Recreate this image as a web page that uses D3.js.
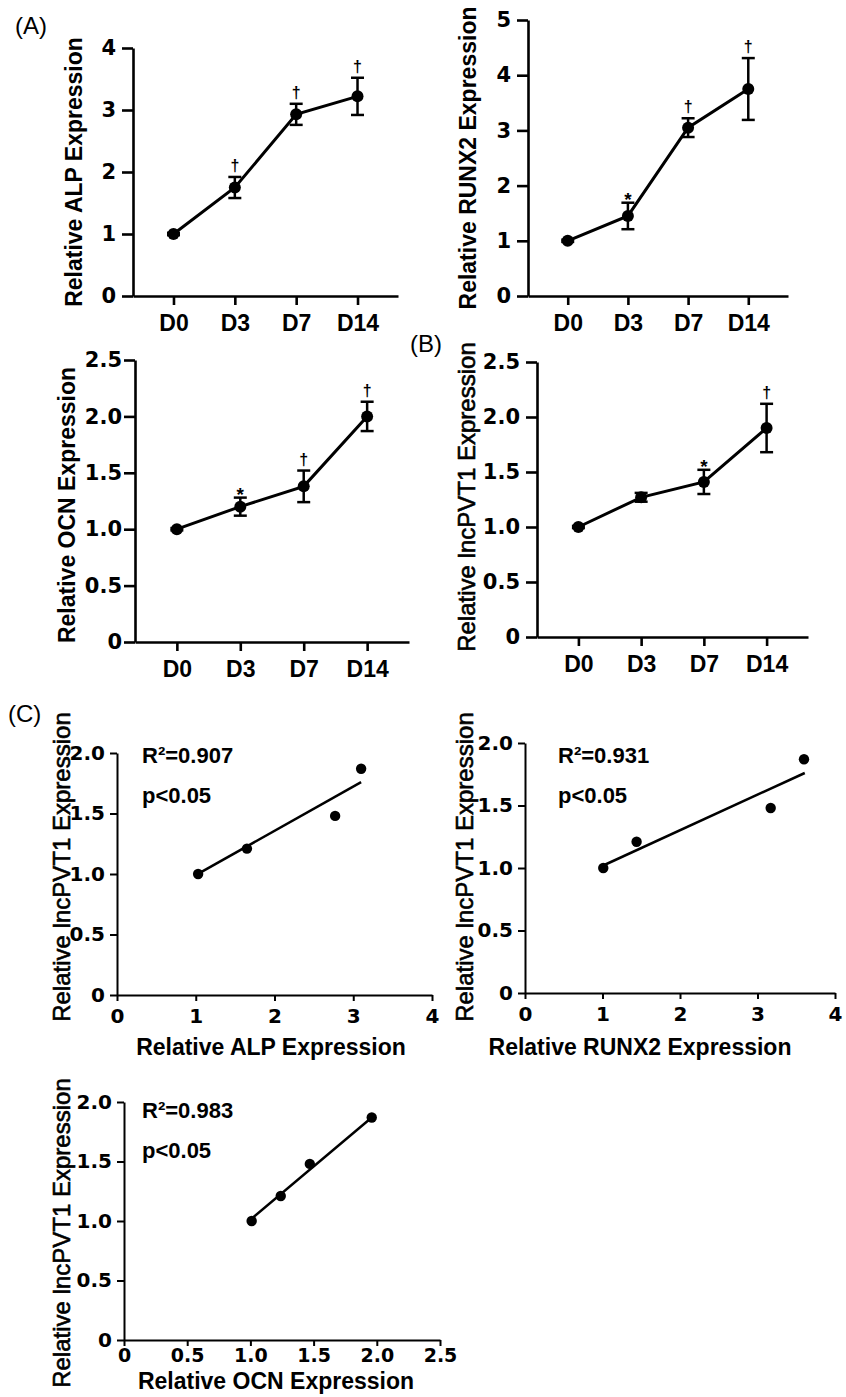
<!DOCTYPE html>
<html>
<head>
<meta charset="utf-8">
<script src="https://cdn.jsdelivr.net/npm/d3@7"></script>
<style>
  body { margin: 0; background: #fff; }
  svg { display: block; }
  .lab { font-family: "Liberation Sans", Arial, sans-serif; fill: #000; }
  .num text { font-family: "DejaVu Sans", sans-serif; font-weight: bold; fill: #000; }
  .cat text { font-family: "Liberation Sans", Arial, sans-serif; font-weight: bold; font-size: 23px; fill: #000; }
</style>
</head>
<body>
<svg id="fig" width="846" height="1397"></svg>
<script>
// time course (mean, error, significance mark)
const days = ["D0", "D3", "D7", "D14"];

const alpMean = [1.0, 1.75, 2.93, 3.22];
const alpErr = [0.02, 0.17, 0.17, 0.3];
const alpSig = ["", "†", "†", "†"];

const runx2Mean = [1.0, 1.45, 3.05, 3.75];
const runx2Err = [0.02, 0.24, 0.17, 0.56];
const runx2Sig = ["", "*", "†", "†"];

const ocnMean = [1.0, 1.2, 1.38, 2.0];
const ocnErr = [0.01, 0.08, 0.14, 0.13];
const ocnSig = ["", "*", "†", "†"];

const pvtMean = [1.0, 1.27, 1.41, 1.9];
const pvtErr = [0.01, 0.04, 0.11, 0.22];
const pvtSig = ["", "", "*", "†"];

// correlation points
const pvtY = [1.0, 1.21, 1.48, 1.87];
const alpX = [1.03, 1.65, 2.77, 3.1];
const runx2X = [1.01, 1.44, 3.17, 3.6];
const ocnX = [1.01, 1.24, 1.47, 1.96];

// fitted line end points [x, y]
const alpFit = [[1.0, 0.99], [3.1, 1.76]];
const runx2Fit = [[1.01, 1.02], [3.61, 1.76]];
const ocnFit = [[1.01, 1.02], [1.96, 1.87]];

const ticks4 = [0, 1, 2, 3, 4];
const ticks5 = [0, 1, 2, 3, 4, 5];
const ticks25 = [0, 0.5, 1.0, 1.5, 2.0, 2.5];
const ticks20 = [0, 0.5, 1.0, 1.5, 2.0];

const fmt = (d) => (d === 0 ? "0" : d3.format(".1f")(d));
const fmtInt = (d) => String(d);

const svg = d3.select("#fig");

const styleAxis = (g, w) => {
  g.selectAll("path.domain").attr("stroke", "#000").attr("stroke-width", w);
  g.selectAll(".tick line").attr("stroke", "#000").attr("stroke-width", w);
};

//line plot with error bars
const linePanel = (cfg, means, errs, sigs, yTicks, yFmt) => {
  const y = d3.scaleLinear().domain([0, cfg.yMax]).range([cfg.yBot, cfg.yTop]);
  const x = d3.scalePoint().domain(days).range([cfg.ax, cfg.xEnd]).padding(0.66);

  const gy = svg.append("g")
    .attr("class", "num")
    .attr("transform", `translate(${cfg.ax},0)`)
    .call(d3.axisLeft(y).tickValues(yTicks).tickFormat(yFmt)
      .tickSize(11).tickSizeOuter(0).tickPadding(cfg.yPad));
  gy.selectAll("text").attr("font-size", 21);
  styleAxis(gy, 2.6);

  const gx = svg.append("g")
    .attr("class", "cat")
    .attr("transform", `translate(0,${cfg.yBot})`)
    .call(d3.axisBottom(x).tickSize(9).tickSizeOuter(0).tickPadding(10));
  gx.selectAll("text").attr("font-size", 23);
  styleAxis(gx, 2.6);

  const data = days.map((d, i) => ({ day: d, m: means[i], e: errs[i], s: sigs[i] }));

  svg.append("path")
    .datum(data)
    .attr("fill", "none")
    .attr("stroke", "#000")
    .attr("stroke-width", 3)
    .attr("d", d3.line().x((d) => x(d.day)).y((d) => y(d.m)));

  const eb = svg.append("g").selectAll("g").data(data).enter().append("g");
  eb.append("line")
    .attr("x1", (d) => x(d.day)).attr("x2", (d) => x(d.day))
    .attr("y1", (d) => y(d.m - d.e)).attr("y2", (d) => y(d.m + d.e))
    .attr("stroke", "#000").attr("stroke-width", 2.5);
  [1, -1].forEach((sgn) => {
    eb.append("line")
      .attr("x1", (d) => x(d.day) - 6.5).attr("x2", (d) => x(d.day) + 6.5)
      .attr("y1", (d) => y(d.m + sgn * d.e)).attr("y2", (d) => y(d.m + sgn * d.e))
      .attr("stroke", "#000").attr("stroke-width", 2.5);
  });
  eb.append("circle")
    .attr("cx", (d) => x(d.day)).attr("cy", (d) => y(d.m))
    .attr("r", 6).attr("fill", "#000");
  eb.append("text")
    .attr("class", "lab")
    .attr("x", (d) => x(d.day))
    .attr("y", (d) => y(d.m + d.e) + (d.s === "*" ? 3 : -6))
    .attr("text-anchor", "middle")
    .attr("font-size", (d) => (d.s === "*" ? 19 : 16))
    .attr("font-weight", "bold")
    .text((d) => d.s);

  const yl = svg.append("text")
    .attr("class", "lab")
    .attr("transform", `translate(${cfg.labelX},${cfg.labelY}) rotate(-90)`)
    .attr("dy", "0.35em")
    .attr("text-anchor", "middle")
    .attr("font-size", cfg.bold ? 23 : 24)
    .attr("font-weight", cfg.bold ? "bold" : "normal")
    .text(cfg.label);
  if (!cfg.bold) yl.attr("stroke", "#000").attr("stroke-width", 0.6);
};

//scatter plot with fitted line
const scatterPanel = (cfg, xs, ys, fit, xTicks, xFmt, r2) => {
  const x = d3.scaleLinear().domain([0, cfg.xMax]).range([cfg.ax, cfg.xEnd]);
  const y = d3.scaleLinear().domain([0, 2]).range([cfg.yBot, cfg.yTop]);

  const gy = svg.append("g")
    .attr("class", "num")
    .attr("transform", `translate(${cfg.ax},0)`)
    .call(d3.axisLeft(y).tickValues(ticks20).tickFormat(fmt)
      .tickSize(7).tickSizeOuter(0).tickPadding(5));
  gy.selectAll("text").attr("font-size", 20);
  styleAxis(gy, 2);

  const gx = svg.append("g")
    .attr("class", "num")
    .attr("transform", `translate(0,${cfg.yBot})`)
    .call(d3.axisBottom(x).tickValues(xTicks).tickFormat(xFmt)
      .tickSize(6).tickSizeOuter(0).tickPadding(cfg.xPad));
  gx.selectAll("text").attr("font-size", cfg.xFont);
  styleAxis(gx, 2);

  svg.append("line")
    .attr("x1", x(fit[0][0])).attr("y1", y(fit[0][1]))
    .attr("x2", x(fit[1][0])).attr("y2", y(fit[1][1]))
    .attr("stroke", "#000").attr("stroke-width", 2.5);

  svg.append("g").selectAll("circle")
    .data(xs.map((v, i) => [v, ys[i]]))
    .enter().append("circle")
    .attr("cx", (d) => x(d[0])).attr("cy", (d) => y(d[1]))
    .attr("r", 5.2).attr("fill", "#000");

  svg.append("text").attr("class", "lab")
    .attr("x", cfg.noteX).attr("y", cfg.noteY)
    .attr("font-size", 22).attr("font-weight", "bold")
    .text("R²=" + r2);
  svg.append("text").attr("class", "lab")
    .attr("x", cfg.noteX).attr("y", cfg.noteY + 40)
    .attr("font-size", 22).attr("font-weight", "bold")
    .text("p<0.05");

  svg.append("text")
    .attr("class", "lab")
    .attr("transform", `translate(${cfg.labelX},${cfg.labelY}) rotate(-90)`)
    .attr("dy", "0.35em")
    .attr("text-anchor", "middle")
    .attr("font-size", 24)
    .attr("stroke", "#000")
    .attr("stroke-width", 0.6)
    .text("Relative lncPVT1 Expression");

  svg.append("text")
    .attr("class", "lab")
    .attr("x", cfg.xLabelX).attr("y", cfg.xLabelY)
    .attr("text-anchor", "middle")
    .attr("font-size", 23).attr("font-weight", "bold")
    .text(cfg.xLabel);
};

linePanel({ ax: 133, xEnd: 398, yTop: 48, yBot: 296, yMax: 4, yPad: 6,
  labelX: 74, labelY: 172, bold: true, label: "Relative ALP Expression" },
  alpMean, alpErr, alpSig, ticks4, fmtInt);

linePanel({ ax: 528, xEnd: 788, yTop: 20, yBot: 296, yMax: 5, yPad: 6,
  labelX: 468, labelY: 158, bold: true, label: "Relative RUNX2 Expression" },
  runx2Mean, runx2Err, runx2Sig, ticks5, fmtInt);

linePanel({ ax: 135, xEnd: 409, yTop: 360, yBot: 642, yMax: 2.5, yPad: 2,
  labelX: 67, labelY: 505, bold: true, label: "Relative OCN Expression" },
  ocnMean, ocnErr, ocnSig, ticks25, fmt);

linePanel({ ax: 537, xEnd: 808, yTop: 362, yBot: 637, yMax: 2.5, yPad: 6,
  labelX: 467, labelY: 497, bold: false, label: "Relative lncPVT1 Expression" },
  pvtMean, pvtErr, pvtSig, ticks25, fmt);

scatterPanel({ ax: 117, xEnd: 432, yTop: 753, yBot: 995, xMax: 4, xPad: 8, xFont: 20,
  noteX: 142, noteY: 763, labelX: 62, labelY: 867,
  xLabelX: 271, xLabelY: 1055, xLabel: "Relative ALP Expression" },
  alpX, pvtY, alpFit, ticks4, fmtInt, "0.907");

scatterPanel({ ax: 525, xEnd: 835, yTop: 743, yBot: 993, xMax: 4, xPad: 8, xFont: 20,
  noteX: 558, noteY: 763, labelX: 465, labelY: 867,
  xLabelX: 640, xLabelY: 1055, xLabel: "Relative RUNX2 Expression" },
  runx2X, pvtY, runx2Fit, ticks4, fmtInt, "0.931");

scatterPanel({ ax: 124, xEnd: 440, yTop: 1102, yBot: 1340, xMax: 2.5, xPad: 3, xFont: 19,
  noteX: 142, noteY: 1118, labelX: 62, labelY: 1233,
  xLabelX: 276, xLabelY: 1389, xLabel: "Relative OCN Expression" },
  ocnX, pvtY, ocnFit, ticks25, fmt, "0.983");

// panel letters
[["(A)", 15, 34], ["(B)", 410, 352], ["(C)", 8, 722]].forEach(([t, px, py]) => {
  svg.append("text").attr("class", "lab")
    .attr("x", px).attr("y", py)
    .attr("font-size", 24)
    .text(t);
});
</script>
</body>
</html>
